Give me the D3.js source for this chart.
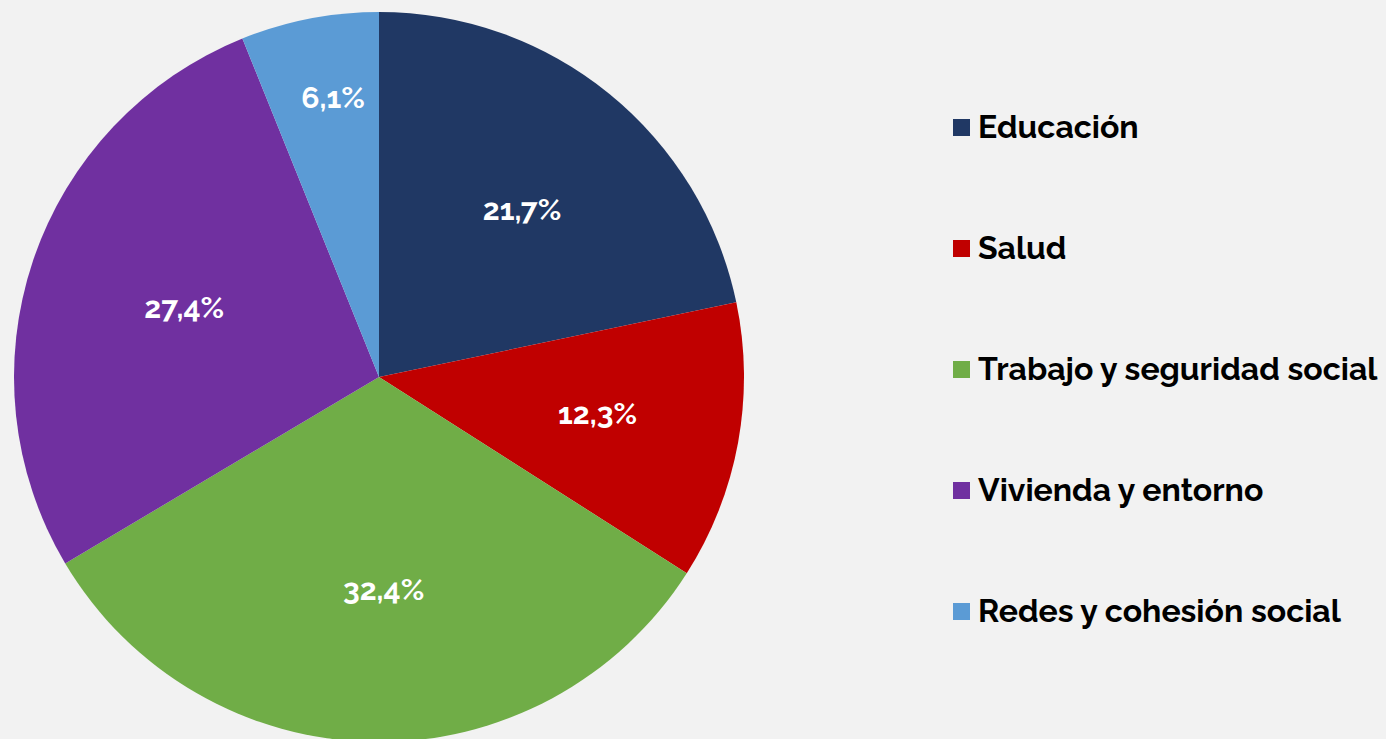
<!DOCTYPE html>
<html>
<head>
<meta charset="utf-8">
<script src="https://cdn.jsdelivr.net/npm/d3@7"></script>
<style>
  body { margin: 0; background: #f2f2f2; }
  svg { display: block; }
</style>
</head>
<body>
<div id="chart"></div>
<script>
// datos del gráfico
const categories = ["Educación", "Salud", "Trabajo y seguridad social", "Vivienda y entorno", "Redes y cohesión social"];
const values = [21.7, 12.3, 32.4, 27.4, 6.1];
const colors = ["#203864", "#c00000", "#70ad47", "#7030a0", "#5b9bd5"];

const w = 1386;
const h = 739;
const cx = 379, cy = 377, r = 365;

const svg = d3.select("#chart")
    .append("svg")
    .attr("width", w)
    .attr("height", h);

svg.append("rect").attr("width", w).attr("height", h).attr("fill", "#f2f2f2");

const pie = d3.pie().sort(null).value(d => d);
const arcs = pie(values);

const arc = d3.arc().innerRadius(0).outerRadius(r);

const g = svg.append("g").attr("transform", `translate(${cx},${cy})`);

g.selectAll("path")
    .data(arcs)
    .enter()
    .append("path")
    .attr("d", arc)
    .attr("fill", (d, i) => colors[i]);

// etiquetas: los trozos pequeños van más afuera
const fmt = v => d3.format(".1f")(v).replace(".", ",") + "%";
g.selectAll("text.lbl")
    .data(arcs)
    .enter()
    .append("text")
    .attr("class", "lbl")
    .attr("transform", d => {
        const lr = d.value < 10 ? 283 : 214;
        const a = (d.startAngle + d.endAngle) / 2;
        return `translate(${Math.sin(a) * lr + 8},${-Math.cos(a) * lr})`;
    })
    .attr("text-anchor", "middle")
    .attr("dy", "0.3em")
    .attr("fill", "#fff")
    .style("font-family", "Raleway, Lato, sans-serif")
    .style("font-weight", "bold")
    .style("font-size", "30px")
    .text(d => fmt(d.value));

// leyenda
const legend = svg.append("g").attr("transform", "translate(953,127)");
const row = legend.selectAll("g")
    .data(categories)
    .enter()
    .append("g")
    .attr("transform", (d, i) => `translate(0,${i * 121})`);

row.append("rect")
    .attr("x", 0)
    .attr("y", -8)
    .attr("width", 17)
    .attr("height", 17)
    .attr("fill", (d, i) => colors[i]);

row.append("text")
    .attr("x", 25)
    .attr("dy", "0.35em")
    .attr("fill", "#000")
    .style("font-family", "Raleway, Lato, sans-serif")
    .style("font-weight", "bold")
    .style("font-size", "32px")
    .text(d => d);
</script>
</body>
</html>
